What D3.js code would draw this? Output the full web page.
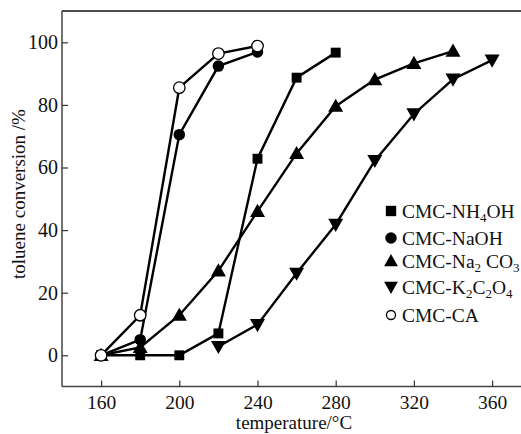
<!DOCTYPE html>
<html><head><meta charset="utf-8">
<script src="https://cdn.jsdelivr.net/npm/d3@7"></script>
<style>body{margin:0;background:#fff}svg{display:block}text{font-family:"Liberation Serif","Times New Roman",serif;fill:#111}</style>
</head><body>
<svg id="c" width="521" height="434"></svg>
<script>
const temps = [160, 180, 200, 220, 240, 260, 280, 300, 320, 340, 360];
const nh4ohT = [160, 180, 200, 220, 240, 260, 280];
const nh4ohV = [0, 0, 0, 7, 62.8, 88.7, 96.7];
const naohT = [160, 180, 200, 220, 240];
const naohV = [0, 5, 70.5, 92.4, 96.9];
const na2co3T = [160, 180, 200, 220, 240, 260, 280, 300, 320, 340];
const na2co3V = [0, 2.5, 12.8, 27, 46, 64.5, 79.6, 88.1, 93.3, 97.2];
const k2c2o4T = [220, 240, 260, 280, 300, 320, 340, 360];
const k2c2o4V = [2.8, 9.8, 26.2, 41.8, 62.2, 77.1, 88.2, 94.3];
const caT = [160, 180, 200, 220, 240];
const caV = [0, 12.8, 85.5, 96.4, 98.8];
const xTicks = [160, 200, 240, 280, 320, 360];
const yTicks = [0, 20, 40, 60, 80, 100];
const xTitle = "temperature/°C";
const yTitle = "toluene conversion /%";

const svg = d3.select("#c");
const x = d3.scaleLinear().domain([140, 380]).range([62, 531.2]);
const y = d3.scaleLinear().domain([-10, 110]).range([386.6, 11]);

const series = [
  {name:"k2c2o4", t:k2c2o4T, v:k2c2o4V, sym:"tdown"},
  {name:"na2co3", t:na2co3T, v:na2co3V, sym:"tup"},
  {name:"nh4oh", t:nh4ohT, v:nh4ohV, sym:"square"},
  {name:"naoh", t:naohT, v:naohV, sym:"circle"},
  {name:"ca", t:caT, v:caV, sym:"open"}
];

// frame
const g = svg.append("g");
g.append("line").attr("x1",62).attr("x2",521).attr("y1",y(110)).attr("y2",y(110)).attr("stroke","#111").attr("stroke-width",1.5);
g.append("line").attr("x1",62).attr("x2",521).attr("y1",y(-10)).attr("y2",y(-10)).attr("stroke","#444").attr("stroke-width",1.5);
g.append("line").attr("x1",62).attr("x2",62).attr("y1",y(110)).attr("y2",y(-10)).attr("stroke","#444").attr("stroke-width",1.5);

// axes
const xa = svg.append("g").attr("transform",`translate(0,${y(-10)})`)
  .call(d3.axisBottom(x).tickValues(xTicks).tickSizeInner(-6).tickSizeOuter(0).tickPadding(9));
xa.select(".domain").remove();
xa.selectAll("line").attr("stroke","#333").attr("stroke-width",1.2);
xa.selectAll("text").attr("font-size",19.5).attr("fill","#111");

const ya = svg.append("g").attr("transform","translate(62,0)")
  .call(d3.axisLeft(y).tickValues(yTicks).tickSizeInner(-6).tickSizeOuter(0).tickPadding(4));
ya.select(".domain").remove();
ya.selectAll("line").attr("stroke","#333").attr("stroke-width",1.2);
ya.selectAll("text").attr("font-size",20).attr("fill","#111");

svg.append("text").attr("x",294).attr("y",429).attr("text-anchor","middle").attr("font-size",19).text(xTitle);
svg.append("text").attr("transform","translate(25,194) rotate(-90)").attr("text-anchor","middle").attr("font-size",19).text(yTitle);

// lines
const line = d3.line().x(d=>x(d[0])).y(d=>y(d[1]));
function drawSym(sel, sym, cx, cy, s) {
  if (sym==="square") sel.append("rect").attr("x",cx-s*0.45).attr("y",cy-s*0.45).attr("width",s*0.9).attr("height",s*0.9).attr("fill","#000");
  else if (sym==="circle") sel.append("circle").attr("cx",cx).attr("cy",cy).attr("r",s*0.5).attr("fill","#000");
  else if (sym==="open") sel.append("circle").attr("cx",cx).attr("cy",cy).attr("r",s*0.5).attr("fill","#fff").attr("stroke","#000").attr("stroke-width",1.3);
  else if (sym==="tup") sel.append("path").attr("d",`M${cx},${cy-s*0.6}L${cx+s*0.6},${cy+s*0.45}L${cx-s*0.6},${cy+s*0.45}Z`).attr("fill","#000");
  else if (sym==="tdown") sel.append("path").attr("d",`M${cx},${cy+s*0.6}L${cx+s*0.6},${cy-s*0.45}L${cx-s*0.6},${cy-s*0.45}Z`).attr("fill","#000");
}
series.forEach(s => {
  const pts = s.t.map((t,i)=>[t, s.v[i]]);
  svg.append("path").datum(pts).attr("d",line).attr("fill","none").attr("stroke","#000").attr("stroke-width",2.4);
});
series.forEach(s => {
  const mg = svg.append("g");
  s.t.forEach((t,i)=> drawSym(mg, s.sym, x(t), y(s.v[i]), s.sym==="square"?11:(s.sym==="circle"||s.sym==="open")?11.5:12.5));
});

// legend
const legend = [
  {sym:"square", yc:211, parts:[["CMC-NH",0],["4",1],["OH",0]]},
  {sym:"circle", yc:238, parts:[["CMC-NaOH",0]]},
  {sym:"tup", yc:261, parts:[["CMC-Na",0],["2",1],[" CO",0],["3",1]]},
  {sym:"tdown", yc:287, parts:[["CMC-K",0],["2",1],["C",0],["2",1],["O",0],["4",1]]},
  {sym:"open", yc:315, parts:[["CMC-CA",0]]}
];
const lg = svg.append("g");
legend.forEach(l => {
  drawSym(lg, l.sym, 391, l.yc, l.sym==="open"?9:11.5);
  const t = lg.append("text").attr("x",402).attr("y",l.yc+7).attr("font-size",19.5);
  l.parts.forEach((p,i) => {
    const prev = i>0 ? l.parts[i-1][1] : 0;
    const dy = p[1] && !prev ? 4 : (!p[1] && prev ? -4 : 0);
    const ts = t.append("tspan").attr("dy",dy).text(p[0]);
    if (p[1]) ts.attr("font-size",13);
  });
});
</script>
</body></html>
